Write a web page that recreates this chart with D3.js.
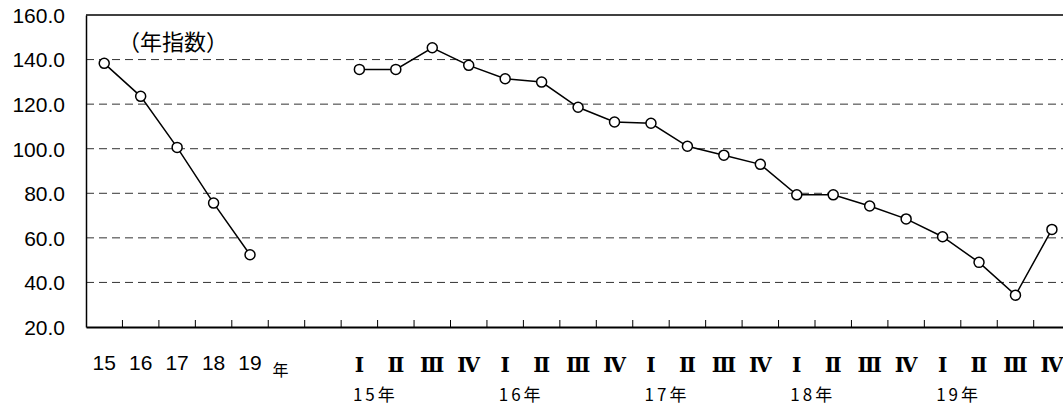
<!DOCTYPE html>
<html>
<head>
<meta charset="utf-8">
<script src="https://cdn.jsdelivr.net/npm/d3@7"></script>
<style>
  body { margin: 0; background: #fff; }
  svg { display: block; font-family: "Liberation Sans", "Noto Sans CJK JP", sans-serif; }
  .cjk { font-family: "Noto Sans CJK JP", sans-serif; }
  .roman { font-family: "DejaVu Serif", "Liberation Serif", serif; font-weight: bold; }
</style>
</head>
<body>
<div class="box"></div>
<script>
// donnees
const years = ['15', '16', '17', '18', '19']
const annualIndex = [138.3, 123.5, 100.6, 75.6, 52.4]
const quarters = ['Ⅰ', 'Ⅱ', 'Ⅲ', 'Ⅳ']
const quarterYears = ['15年', '16年', '17年', '18年', '19年']
const quarterlyIndex = [135.6, 135.6, 145.3, 137.4,
                        131.4, 129.9, 118.6, 112.0,
                        111.4, 101.1, 97.1, 93.0,
                        79.3, 79.3, 74.3, 68.5,
                        60.5, 49.0, 34.3, 63.8]
const yTicks = [20, 40, 60, 80, 100, 120, 140, 160]
const title = '（年指数）'

const width = 1063
const height = 409
const margin = {top: 15, left: 86, bottom: 82}
const bandW = 36.45

const svg = d3.select('.box')
  .append('svg')
  .attr('width', width)
  .attr('height', height)

// categories: 5 annees, "年", vide, puis 20 trimestres
const annualKeys = years.map(d => 'a' + d)
const quarterKeys = []
quarterYears.forEach((y, i) => quarters.forEach((q, j) => quarterKeys.push('q' + i + '-' + j)))
const domain = [...annualKeys, 'unit', 'gap', ...quarterKeys]

const x = d3.scaleBand()
  .domain(domain)
  .range([margin.left, margin.left + bandW * domain.length])
  .padding(0)

const y = d3.scaleLinear()
  .domain([20, 160])
  .range([height - margin.bottom, margin.top])

const right = margin.left + bandW * domain.length

// grille pointillee
svg.append('g')
  .selectAll('line')
  .data(yTicks.filter(d => d > 20 && d < 160))
  .enter()
  .append('line')
  .attr('x1', margin.left)
  .attr('x2', right)
  .attr('y1', d => y(d))
  .attr('y2', d => y(d))
  .attr('stroke', '#333')
  .attr('stroke-width', 1)
  .attr('stroke-dasharray', '8,5')

// bordure du haut
svg.append('line')
  .attr('x1', margin.left).attr('x2', right)
  .attr('y1', y(160)).attr('y2', y(160))
  .attr('stroke', '#000').attr('stroke-width', 1.3)

// axe Y
const axeY = d3.axisLeft(y)
  .tickValues(yTicks)
  .tickSize(0)
  .tickPadding(21)
  .tickFormat(d3.format('.1f'))
const gY = svg.append('g')
  .attr('transform', `translate(${margin.left},0)`)
  .call(axeY)
gY.attr('font-family', null)
gY.select('.domain').attr('stroke', '#000').attr('stroke-width', 1.5)
gY.selectAll('text')
  .style('font-size', '21px')
  .attr('fill', '#000')
  .attr('dy', '0.35em')

// axe X : ticks vers le haut aux limites des categories
const boundaries = domain.slice(1)
const axeX = d3.axisBottom(x).tickValues([]).tickSizeOuter(0)
const gX = svg.append('g')
  .attr('transform', `translate(0,${y(20)})`)
  .call(axeX)
gX.select('.domain').attr('stroke', '#000').attr('stroke-width', 2)
gX.selectAll('.tickmark')
  .data(boundaries)
  .enter()
  .append('line')
  .attr('class', 'tickmark')
  .attr('x1', d => x(d))
  .attr('x2', d => x(d))
  .attr('y1', 0)
  .attr('y2', -7)
  .attr('stroke', '#000')
  .attr('stroke-width', 1)

// etiquettes
const labelY = 362
svg.append('g')
  .selectAll('text')
  .data(years)
  .enter()
  .append('text')
  .attr('x', (d, i) => x(annualKeys[i]) + bandW / 2)
  .attr('y', labelY)
  .attr('text-anchor', 'middle')
  .attr('dominant-baseline', 'central')
  .style('font-size', '21px')
  .text(d => d)

svg.append('text')
  .attr('class', 'cjk')
  .attr('x', x('unit') + bandW / 2 - 6)
  .attr('y', labelY + 7)
  .attr('text-anchor', 'middle')
  .attr('dominant-baseline', 'central')
  .style('font-size', '16px')
  .text('年')

svg.append('g')
  .selectAll('text')
  .data(quarterKeys)
  .enter()
  .append('text')
  .attr('class', 'roman')
  .attr('x', d => x(d) + bandW / 2)
  .attr('y', labelY + 3)
  .attr('text-anchor', 'middle')
  .attr('dominant-baseline', 'central')
  .style('font-size', '20px')
  .text((d, i) => quarters[i % 4])

svg.append('g')
  .selectAll('text')
  .data(quarterYears)
  .enter()
  .append('text')
  .attr('class', 'cjk')
  .attr('x', (d, i) => x(quarterKeys[i * 4]) + bandW / 2 + 16)
  .attr('y', 393)
  .attr('text-anchor', 'middle')
  .attr('dominant-baseline', 'central')
  .style('font-size', '17px')
  .style('letter-spacing', '3px')
  .text(d => d)

// titre
svg.append('text')
  .attr('class', 'cjk')
  .attr('x', 118)
  .attr('y', 40)
  .attr('dominant-baseline', 'central')
  .style('font-size', '22px')
  .text(title)

// lignes
const line = d3.line()
  .x(d => x(d.k) + bandW / 2)
  .y(d => y(d.v))

const annual = years.map((d, i) => ({k: annualKeys[i], v: annualIndex[i]}))
const quarterly = quarterKeys.map((k, i) => ({k: k, v: quarterlyIndex[i]}))

;[annual, quarterly].forEach(serie => {
  svg.append('path')
    .datum(serie)
    .attr('d', line)
    .attr('fill', 'none')
    .attr('stroke', '#000')
    .attr('stroke-width', 1.5)

  svg.append('g')
    .selectAll('circle')
    .data(serie)
    .enter()
    .append('circle')
    .attr('cx', d => x(d.k) + bandW / 2)
    .attr('cy', d => y(d.v))
    .attr('r', 5)
    .attr('fill', '#fff')
    .attr('stroke', '#000')
    .attr('stroke-width', 1.5)
})
</script>
</body>
</html>
